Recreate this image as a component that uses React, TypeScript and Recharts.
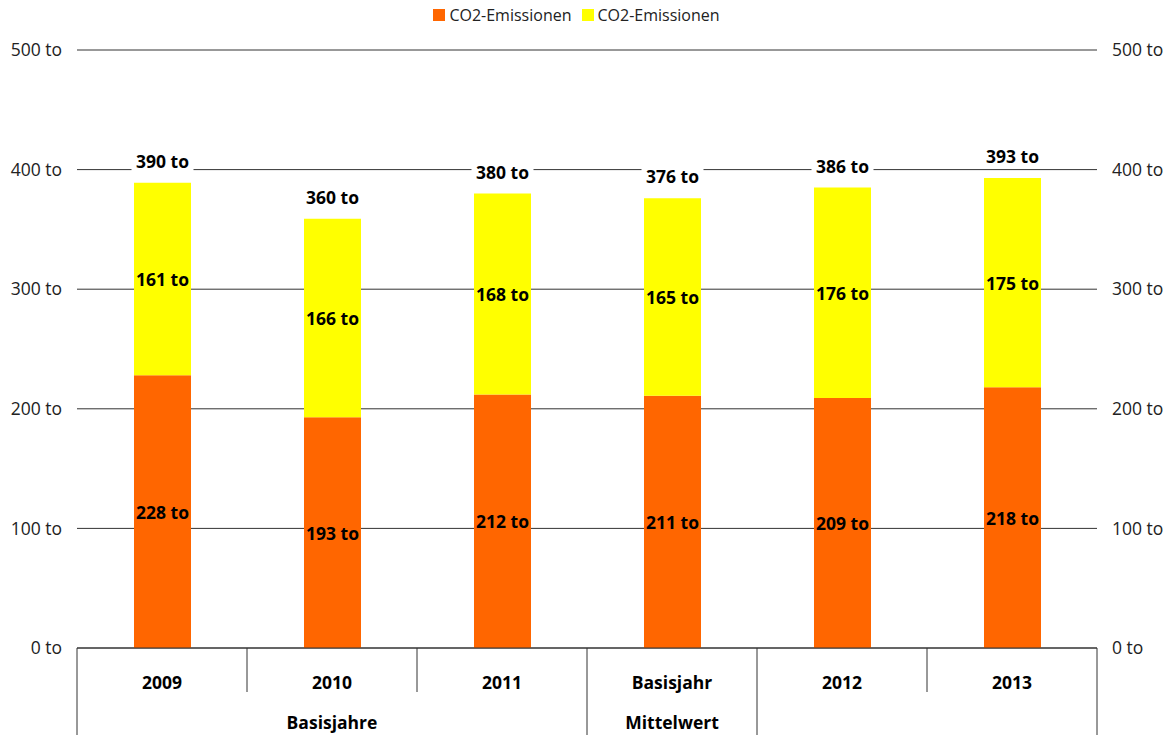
import React from "react";
import { BarChart, Bar, XAxis, YAxis, CartesianGrid, Legend, LabelList } from "recharts";

const categories = ["2009", "2010", "2011", "Basisjahr", "2012", "2013"];
const groupLabels = ["", "Basisjahre", "", "Mittelwert", "", ""];
const orangeValues = [228, 193, 212, 211, 209, 218];
const yellowValues = [161, 166, 168, 165, 176, 175];
const totalValues = [390, 360, 380, 376, 386, 393];
const yTicks = [0, 100, 200, 300, 400, 500];
const seriesNames = ["CO2-Emissionen", "CO2-Emissionen"];

const ORANGE = "#FF6600";
const YELLOW = "#FFFF00";
const FONT = "'Open Sans', 'Noto Sans', sans-serif";
const FS = 17.5;

const data = categories.map((c, i) => ({
  cat: c,
  group: groupLabels[i],
  orange: orangeValues[i],
  yellow: yellowValues[i],
  total: totalValues[i],
}));

const groupStarts = [0, 3, 4];

const CategoryTick = (props: any) => {
  const { x, y, payload } = props;
  const half = payload && payload.offset ? payload.offset : 85;
  const idx = payload.index;
  const left = x - half;
  const right = x + half;
  const full = groupStarts.includes(idx);
  const g = groupLabels[idx];
  return (
    <g>
      <line x1={left} y1={y} x2={left} y2={full ? 735 : 692} stroke="#333" strokeWidth={1} />
      {idx === categories.length - 1 && (
        <line x1={right} y1={y} x2={right} y2={735} stroke="#333" strokeWidth={1} />
      )}
      <text x={x} y={y + 34} textAnchor="middle" dominantBaseline="central" fontWeight="bold" fontSize={FS} fill="#000">
        {payload.value}
      </text>
      {g && (
        <text x={x} y={y + 74} textAnchor="middle" dominantBaseline="central" fontWeight="bold" fontSize={FS} fill="#000">
          {g}
        </text>
      )}
    </g>
  );
};

const InsideLabel = (props: any) => {
  const { x, y, width, height, value } = props;
  return (
    <text x={x + width / 2} y={y + height / 2} textAnchor="middle" dominantBaseline="central" fontWeight="bold" fontSize={FS} fill="#000">
      {`${value} to`}
    </text>
  );
};

const TotalLabel = (props: any) => {
  const { x, y, width, value } = props;
  const cx = x + width / 2;
  const cy = y - 22;
  return (
    <g>
      <rect x={cx - 31} y={cy - 11} width={62} height={22} fill="#fff" />
      <text x={cx} y={cy} textAnchor="middle" dominantBaseline="central" fontWeight="bold" fontSize={FS} fill="#000">
        {`${value} to`}
      </text>
    </g>
  );
};

const LegendContent = () => (
  <div style={{ display: "flex", justifyContent: "center", alignItems: "center", height: 24, paddingRight: 18, fontFamily: FONT, fontSize: 16, color: "#222" }}>
    {[ORANGE, YELLOW].map((c, i) => (
      <span key={i} style={{ display: "inline-flex", alignItems: "center", marginRight: i === 0 ? 10 : 0 }}>
        <span style={{ display: "inline-block", width: 12, height: 12, background: c, marginRight: 4 }} />
        {seriesNames[i]}
      </span>
    ))}
  </div>
);

export default function App() {
  return (
    <div style={{ position: "absolute", left: 0, top: 0, fontFamily: FONT, background: "#fff" }}>
      <BarChart
        width={1171}
        height={735}
        data={data}
        margin={{ top: 26, right: 0, bottom: 0, left: 0 }}
        barCategoryGap={0}
      >
        <Legend verticalAlign="top" content={<LegendContent />} wrapperStyle={{ top: 3, left: 0, width: 1171 }} />
        <CartesianGrid horizontal={true} vertical={false} stroke="#333" strokeOpacity={1} yAxisId="left" />
        <XAxis
          dataKey="cat"
          height={87}
          axisLine={{ stroke: "#333" }}
          tickLine={false}
          tickSize={0}
          tickMargin={0}
          interval={0}
          tick={<CategoryTick />}
        />
        <YAxis
          yAxisId="left"
          type="number"
          width={77}
          domain={[0, 500]}
          ticks={yTicks}
          axisLine={false}
          tickLine={false}
          tickSize={0}
          tickMargin={15}
          tick={{ fill: "#222", fontSize: FS }}
          tickFormatter={(v: number) => `${v} to`}
        />
        <YAxis
          yAxisId="right"
          type="number"
          orientation="right"
          width={74}
          domain={[0, 500]}
          allowDataOverflow={true}
          ticks={yTicks}
          axisLine={false}
          tickLine={false}
          tickSize={0}
          tickMargin={15}
          tick={{ fill: "#222", fontSize: FS }}
          tickFormatter={(v: number) => `${v} to`}
        />
        <Bar dataKey="orange" stackId="a" yAxisId="left" fill={ORANGE} barSize={57} isAnimationActive={false} name={seriesNames[0]}>
          <LabelList dataKey="orange" content={<InsideLabel />} />
        </Bar>
        <Bar dataKey="yellow" stackId="a" yAxisId="left" fill={YELLOW} barSize={57} isAnimationActive={false} name={seriesNames[1]}>
          <LabelList dataKey="yellow" content={<InsideLabel />} />
          <LabelList dataKey="total" content={<TotalLabel />} />
        </Bar>
      </BarChart>
    </div>
  );
}
